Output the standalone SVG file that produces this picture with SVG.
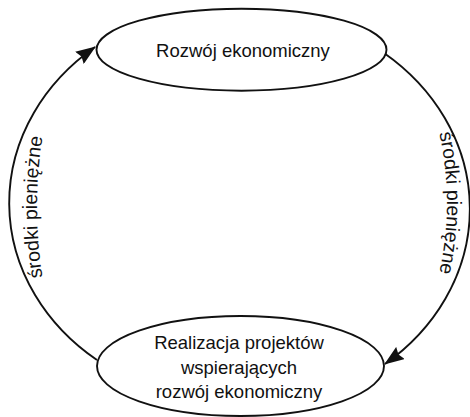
<svg xmlns="http://www.w3.org/2000/svg" width="470" height="417" viewBox="0 0 470 417">
<style>
.node{fill:#fff;stroke:#111;stroke-width:1.9}
.edge{fill:none;stroke:#111;stroke-width:1.9}
text{font-family:"Liberation Sans",Arial,sans-serif;font-size:18.5px;fill:#111;text-anchor:middle}
.lbl{font-size:19.5px}
</style>
<defs>
<marker id="arr" viewBox="0 0 20 15" refX="19" refY="7.5" markerWidth="20" markerHeight="15" markerUnits="userSpaceOnUse" orient="auto">
<path d="M0,0 L20,7.5 L0,15 L2.5,7.5 Z" fill="#111"/>
</marker>
<path id="lp" d="M53.3,327 A450,450 0 0 1 53.3,87"/>
<path id="rp" d="M423.6,83 A320,320 0 0 1 423.6,323"/>
</defs>
<g id="connectors">
<path class="edge" d="M97,360 A230,200 0 0 1 95,47" marker-end="url(#arr)"/>
<path class="edge" d="M384,53 A230,200 0 0 1 385,364" marker-end="url(#arr)"/>
<text class="lbl"><textPath href="#lp" startOffset="50%">środki pieniężne</textPath></text>
<text class="lbl"><textPath href="#rp" startOffset="50%">środki pieniężne</textPath></text>
</g>
<g id="node-top">
<ellipse class="node" cx="241.5" cy="49.7" rx="145" ry="41"/>
<text x="243" y="57">Rozwój ekonomiczny</text>
</g>
<g id="node-bottom">
<ellipse class="node" cx="240.5" cy="366" rx="143.5" ry="50"/>
<text x="239" y="349">Realizacja projektów</text>
<text x="239" y="373.5">wspierających</text>
<text x="239" y="398">rozwój ekonomiczny</text>
</g>
</svg>
